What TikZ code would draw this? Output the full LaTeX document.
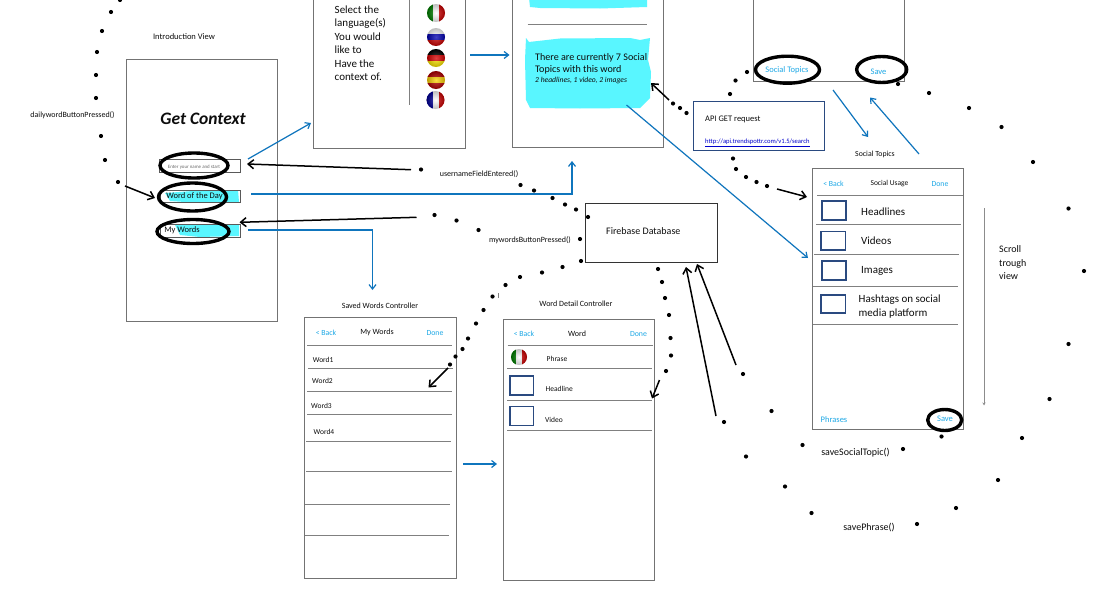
\documentclass[tikz,border=0pt]{standalone}
\usepackage{fontspec}
\setmainfont{Carlito}
\usetikzlibrary{arrows.meta}
\definecolor{flowblue}{HTML}{0F75BD}
\definecolor{tapblue}{HTML}{1FA9E6}
\definecolor{marker}{HTML}{59F6FF}
\definecolor{boxnavy}{HTML}{2A4A80}
\tikzset{
SCREEN/.style={draw=black!55,line width=0.95pt,fill=none,inner sep=0pt},
ROWLINE/.style={draw=black!50,line width=1pt},
CHECKBOX/.style={draw=boxnavy,line width=1.3pt},
RING/.style={draw=black,line width=3.4pt},
FIELD/.style={draw=black!65,line width=0.8pt},
MARKER/.style={draw=none,fill=marker},
TXT/.style={inner sep=0pt,yshift=-0.7pt,text=black!95,font=\fontsize{#1}{#1}\selectfont},
TXT/.default=8,
LEFTTXT/.style={TXT=#1,anchor=west},
LEFTTXT/.default=8,
TAP/.style={TXT=7.8,text=tapblue},
FLOW/.style={draw=flowblue,line width=1.2pt,-{Straight Barb[length=4.5pt,width=7pt]}},
CALL/.style={draw=black,line width=1.5pt,-{Straight Barb[length=5.5pt,width=9pt]}},
DOT/.style={fill=black,draw=none},
}
\newcommand{\FLAGV}[6]{% vertical bands
	\begin{scope}[shift={(#1,#2)}]
		\clip (0,0) circle (#3pt);
		\fill[#4] (-10,-10) rectangle (-#3/3,10);
		\fill[#5] (-#3/3,-10) rectangle (#3/3,10);
		\fill[#6] (#3/3,-10) rectangle (10,10);
		\shade[inner color=white,outer color=black,opacity=0.25] (0,0) circle (#3pt);
	\end{scope}}
\newcommand{\FLAGH}[6]{% horizontal bands
	\begin{scope}[shift={(#1,#2)}]
		\clip (0,0) circle (#3pt);
		\fill[#4] (-10,-10) rectangle (10,-#3/3);
		\fill[#5] (-10,-#3/3) rectangle (10,#3/3);
		\fill[#6] (-10,#3/3) rectangle (10,10);
		\shade[inner color=white,outer color=black,opacity=0.25] (0,0) circle (#3pt);
	\end{scope}}
\begin{document}
\begin{tikzpicture}[x=1pt,y=-1pt]
	\clip (0,0) rectangle (1106,597);
	\fill[white] (0,0) rectangle (1106,597);

	%cyan marker strokes go first
	\path[MARKER] (529,-2) -- (647,-2) -- (647,7) -- (600,8.5) -- (540,8) -- (530,7) -- cycle;
	\path[MARKER] (526,38) -- (529,42) -- (560,38.5) -- (630,38) -- (640,40) -- (650,38) -- (648,60) -- (651,72) -- (650,98) -- (640,108) -- (580,108.5) -- (530,108) -- (526,100) -- (525,60) -- cycle;
	\path[MARKER] (165,193) -- (200,190.5) -- (238,190) -- (239,202) -- (200,203) -- (170,201) -- cycle;
	\path[MARKER] (175,225) -- (239,225) -- (239,236) -- (200,237) -- (180,235) -- cycle;

	%screens
	\node[SCREEN,minimum width=151pt,minimum height=262pt] (intro) at (201.5,190) {};
	\node[SCREEN,minimum width=152pt,minimum height=168pt] (select) at (389,64) {};
	\node[SCREEN,minimum width=151pt,minimum height=167pt] (context) at (587.5,63.5) {};
	\node[SCREEN,minimum width=151pt,minimum height=102pt] (topics) at (829,30.5) {};
	\node[SCREEN,minimum width=151pt,minimum height=261pt] (usage) at (888,298.5) {};
	\node[SCREEN,minimum width=152pt,minimum height=261.5pt] (saved) at (380,448.2) {};
	\node[SCREEN,minimum width=151.5pt,minimum height=261pt] (detail) at (579.2,450) {};
	\node[SCREEN,draw=black!80,minimum width=132pt,minimum height=59pt] (firebase) at (651,232.5) {};
	\node[SCREEN,draw=boxnavy,minimum width=130.5pt,minimum height=49.5pt] (api) at (758.8,125.8) {};

	%intro view
	\node[TXT=8.5] (introcap) at (184,36) {Introduction View};
	\node[TXT=8] (dailycall) at (72.5,115) {dailywordButtonPressed()};
	\node[TXT=18,font=\fontsize{17.5}{18}\selectfont\bfseries\itshape] (title) at (203,118) {Get Context};
	\node[FIELD,minimum width=81pt,minimum height=13pt,inner sep=0pt] (namefield) at (199.5,165.5) {};
	\node[FIELD,minimum width=80pt,minimum height=12pt,inner sep=0pt] (dayfield) at (200,196) {};
	\node[FIELD,minimum width=80pt,minimum height=13pt,inner sep=0pt] (wordsfield) at (200,230.5) {};
	\node[TXT=4.9,text=black!60] (nametxt) at (194,166) {Enter your name and start};
	\node[TXT=8.5] (daytxt) at (194.5,196) {Word of the Day};
	\node[TXT=8.5] (wordstxt) at (182,230) {My Words};
	\draw[RING] (194,165.5) ellipse (34pt and 12.5pt);
	\draw[RING] (192.5,197) ellipse (34pt and 14pt);
	\draw[RING] (193,231.5) ellipse (36pt and 12pt);

	%language screen
	\node[LEFTTXT=11,align=left,font=\fontsize{11}{13.4}\selectfont] (langtxt) at (334.5,42.5) {Select the\\language(s)\\You would\\like to\\Have the\\context of.};
	\draw[ROWLINE] (409,-2) -- (409,105);
	\FLAGV{436}{13}{9}{green!50!black}{white}{red!80!black}
	\FLAGH{436}{37}{9}{white}{blue!70!black}{red!80!black}
	\FLAGH{436}{58}{9}{black}{red!85!black}{yellow!90!orange}
	\FLAGH{436}{80}{9}{red!70!black}{yellow!70!orange}{red!70!black}
	\FLAGV{435.5}{100}{9}{blue!60!black}{white}{red!80!black}

	%word of the day screen
	\draw[ROWLINE] (527.5,24.5) -- (647,24.5);
	\node[LEFTTXT=10.1,align=left,font=\fontsize{10.1}{12}\selectfont] (socialtxt) at (535,63) {There are currently 7 Social\\Topics with this word};
	\node[LEFTTXT=7.6,font=\fontsize{7.6}{8}\selectfont\itshape] (socialsub) at (535,80) {2 headlines, 1 video, 2 images};

	%top right screen
	\node[TAP,font=\fontsize{8.5}{9}\selectfont] (topicstap) at (787,70) {Social Topics};
	\node[TAP,font=\fontsize{8.5}{9}\selectfont] (savetap) at (878.5,71) {Save};
	\draw[RING] (787.5,69.7) ellipse (32pt and 13.5pt);
	\draw[RING] (881.7,69.5) ellipse (25pt and 13pt);

	%api box
	\node[LEFTTXT=8.5] (apitxt) at (705,119) {API GET request};
	\node[LEFTTXT=6.6,text=blue!80!black] (apilink) at (705,142) {\underline{http://api.trendspottr.com/v1.5/search}};

	%firebase
	\node[LEFTTXT=10] (firetxt) at (606,230.5) {Firebase Database};

	%social usage screen
	\node[TXT=7.8] (usagecap) at (875,154) {Social Topics};
	\node[TAP] (usageback) at (833.5,183) {< Back};
	\node[TXT=7.5] (usagetitle) at (889.5,183) {Social Usage};
	\node[TAP] (usagedone) at (940,183) {Done};
	\draw[ROWLINE] (817,195.5) -- (963,195.5);
	\draw[ROWLINE] (816,224) -- (961,224);
	\draw[ROWLINE] (814,254.5) -- (959,254.5);
	\draw[ROWLINE] (813,286) -- (958,286);
	\draw[ROWLINE] (813,324.5) -- (958,324.5);
	\draw[CHECKBOX] (822,201) rectangle (846,220);
	\draw[CHECKBOX] (821,231.5) rectangle (845.5,250);
	\draw[CHECKBOX] (822,261) rectangle (846,280);
	\draw[CHECKBOX] (821,295) rectangle (845.5,313);
	\node[LEFTTXT=11] (headlines) at (861,211) {Headlines};
	\node[LEFTTXT=11] (videos) at (861,240) {Videos};
	\node[LEFTTXT=11] (images) at (861,270) {Images};
	\node[LEFTTXT=11,align=left,font=\fontsize{11}{14}\selectfont] (hashtags) at (858.5,306) {Hashtags on social\\media platform};
	\node[TAP,font=\fontsize{8.5}{9}\selectfont] (phrasestap) at (834,419) {Phrases};
	\node[TAP,font=\fontsize{8.5}{9}\selectfont] (usagesave) at (945,418) {Save};
	\draw[RING] (944.7,420) ellipse (17pt and 10.5pt);
	\node[LEFTTXT=10,align=left,font=\fontsize{10}{13.5}\selectfont] (scrolltxt) at (999,262) {Scroll\\trough\\view};

	%saved words screen
	\node[TXT=8] (savedcap) at (380,305) {Saved Words Controller};
	\node[TAP] (savedback) at (326,332) {< Back};
	\node[TXT=8] (savedtitle) at (377,332) {My Words};
	\node[TAP] (saveddone) at (435,332) {Done};
	\draw[ROWLINE] (307,345.5) -- (452,345.5);
	\draw[ROWLINE] (308,368.5) -- (453,368.5);
	\draw[ROWLINE] (307,391.5) -- (452,391.5);
	\draw[ROWLINE] (307,414.5) -- (451.5,414.5);
	\draw[ROWLINE] (306,441.5) -- (451,441.5);
	\draw[ROWLINE] (306,471) -- (451.5,471);
	\draw[ROWLINE] (305,504.5) -- (450,504.5);
	\draw[ROWLINE] (305,535.5) -- (449,535.5);
	\node[LEFTTXT=7.5] (wordone) at (312.7,359) {Word1};
	\node[LEFTTXT=7.5] (wordtwo) at (312,380) {Word2};
	\node[LEFTTXT=7.5] (wordthree) at (311,405) {Word3};
	\node[LEFTTXT=7.5] (wordfour) at (313.5,431) {Word4};

	%word detail screen
	\node[TXT=8] (detailcap) at (576,303) {Word Detail Controller};
	\node[TAP] (detailback) at (524,333.5) {< Back};
	\node[TXT=8] (detailtitle) at (577,333) {Word};
	\node[TAP] (detaildone) at (638.5,333.5) {Done};
	\draw[ROWLINE] (507.5,345.5) -- (653,345.5);
	\draw[ROWLINE] (507,368.5) -- (652,368.5);
	\draw[ROWLINE] (507,400) -- (652,400);
	\draw[ROWLINE] (507,430.5) -- (651.5,430.5);
	\FLAGV{519}{357}{8}{green!50!black}{white}{red!80!black}
	\draw[CHECKBOX] (510,376) rectangle (533.5,395);
	\draw[CHECKBOX] (510,406.5) rectangle (533.5,425.5);
	\node[LEFTTXT=7.5] (phrasetxt) at (546.5,358) {Phrase};
	\node[LEFTTXT=7.5] (headlinetxt) at (545.5,388) {Headline};
	\node[LEFTTXT=7.5] (videotxt) at (545,419.5) {Video};

	%calls
	\node[TXT=8] (usercall) at (479,173) {usernameFieldEntered()};
	\node[TXT=8] (wordscall) at (530,239.5) {mywordsButtonPressed()};
	\node[TXT=10] (savesocial) at (855.5,451.5) {saveSocialTopic()};
	\node[TXT=10] (savephrase) at (869,526.5) {savePhrase()};

	%free ends of the arrows
	\coordinate (nameOut) at (248,159);
	\coordinate (selectIn) at (311,123);
	\coordinate (dayOut) at (251,194);
	\coordinate (dayBend) at (572,194);
	\coordinate (contextIn) at (572,161);
	\coordinate (wordsOut) at (248,230);
	\coordinate (wordsBend) at (372.5,230);
	\coordinate (savedIn) at (372.5,290);
	\coordinate (selectOut) at (470,55);
	\coordinate (contextFrom) at (509.5,55);
	\coordinate (blobOut) at (626.5,105);
	\coordinate (usageIn) at (808,258);
	\coordinate (topicsOut) at (833,90);
	\coordinate (usagecapIn) at (868,137);
	\coordinate (usagecapOut) at (919,154);
	\coordinate (topicsIn) at (870,97.5);
	\coordinate (savedOut) at (463,464);
	\coordinate (detailIn) at (497,464);
	\coordinate (userFrom) at (411,169.7);
	\coordinate (nameIn) at (247,164);
	\coordinate (wordsFrom) at (416.5,217.3);
	\coordinate (wordsIn) at (239.5,222.3);
	\coordinate (dailyFrom) at (125,186);
	\coordinate (dayIn) at (155,198);
	\coordinate (apiFrom) at (669,100);
	\coordinate (blobIn) at (651,83);
	\coordinate (getFrom) at (777,189);
	\coordinate (usageRow) at (807,197);
	\coordinate (fireFrom) at (448,368);
	\coordinate (wordIn) at (428.5,387.5);
	\coordinate (fireTo) at (659.5,380);
	\coordinate (rowIn) at (652,398.5);
	\coordinate (phraseFrom) at (716,416);
	\coordinate (fireInA) at (686,267);
	\coordinate (socialFrom) at (736,365);
	\coordinate (fireInB) at (697,264);

	%blue flows
	\draw[FLOW] (nameOut) -- (selectIn);
	\draw[FLOW] (dayOut) -- (dayBend) -- (contextIn);
	\draw[FLOW] (wordsOut) -- (wordsBend) -- (savedIn);
	\draw[FLOW] (selectOut) -- (contextFrom);
	\draw[FLOW] (blobOut) -- (usageIn);
	\draw[FLOW] (topicsOut) -- (usagecapIn);
	\draw[FLOW] (usagecapOut) -- (topicsIn);
	\draw[FLOW] (savedOut) -- (detailIn);

	%black calls
	\draw[CALL] (userFrom) -- (nameIn);
	\draw[CALL] (wordsFrom) -- (wordsIn);
	\draw[CALL] (dailyFrom) -- (dayIn);
	\draw[CALL] (apiFrom) -- (blobIn);
	\draw[CALL] (getFrom) -- (usageRow);
	\draw[CALL] (fireFrom) -- (wordIn);
	\draw[CALL] (fireTo) -- (rowIn);
	\draw[CALL] (phraseFrom) -- (fireInA);
	\draw[CALL] (socialFrom) -- (fireInB);

	%scroll arrow
	\coordinate (scrollTop) at (984,208);
	\coordinate (scrollEnd) at (984,405.5);
	\draw[draw=black!45,line width=0.8pt,-{Stealth[length=3pt,width=3pt]}] (scrollTop) -- (scrollEnd);

	%dotted trails
	\foreach \x/\y in {120/0,111/12,102/31,97/52,96/75,96/98,101/136,105/160,118/182,
		421/169.5,520.5/185,534/190.5,552.5/198,565/204.5,576/209.5,588/217,
		434.5/215,456.5/220.5,478.5/230,580/239,581/261,562.5/267,542/272.5,520/277,
		505.5/285,492.5/296.5,483.5/310,476/323.5,468/338.5,462.5/349,455.5/356.5,450/364.5,
		658/269,662/282,665/298,669/315,670.5/338,671/355.5,666/371,
		747/72,735.5/80.5,730/94,680/108,673/103.5,686.5/113,733/158.5,736/169,746/177,756.5/182,767/186,
		898/84,929/93,969/108,1001.5/127,1033/162,1068.5/208.5,1084/271,1068.5/344,1049.5/399,1022/438,998/480,956/508,917/524,
		941.5/436.5,903/449,802.5/445,771.5/411,743/374,
		724/422,746/456.5,785/486.5,811.5/513}
		\fill[DOT] (\x,\y) circle (2.1pt);
	\draw[black!50,line width=0.5pt] (498.3,293) -- (498.3,298);
\end{tikzpicture}
\end{document}
